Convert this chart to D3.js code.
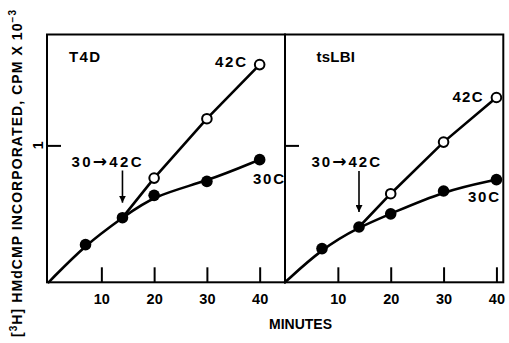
<!DOCTYPE html>
<html>
<head>
<meta charset="utf-8">
<script src="https://cdn.jsdelivr.net/npm/d3@7"></script>
<style>
  html, body { margin: 0; padding: 0; background: #fff; }
  svg { display: block; }
  text { font-family: "Liberation Sans", Arial, Helvetica, sans-serif; font-weight: bold; fill: #000; }
</style>
</head>
<body>
<svg id="chart" width="509" height="343"></svg>
<script>
// Incorporation of [3H]HMdCMP (CPM x 10^-3) versus time, two strains
const minutes = [7, 14, 20, 30, 40];
const t4d30 = [0.275, 0.472, 0.635, 0.737, 0.896];
const ts30 = [0.246, 0.404, 0.50, 0.667, 0.75];

const shiftMinutes = [20, 30, 40];
const t4d42 = [0.761, 1.195, 1.59];
const ts42 = [0.647, 1.024, 1.35];

const shiftAt = 14;
const xTicks = [10, 20, 30, 40];
const yTicks = [1];

const svg = d3.select("#chart");
const y = d3.scaleLinear().domain([0, 1.81]).range([282.3, 34.5]);

const panels = [
  { name: "T4D", x: d3.scaleLinear().domain([-0.3, 44.8]).range([47, 285]),
    low: t4d30, high: t4d42,
    nameLabel: [69, 61.5, 31], hiLabel: [215, 66.5, 31], loLabel: [253, 184, 31],
    shiftLabel: [71.5, 166.5, 70] },
  { name: "tsLBI", x: d3.scaleLinear().domain([0, 41.3]).range([285, 503.3]),
    low: ts30, high: ts42,
    nameLabel: [316.5, 61.5, 38.5], hiLabel: [452.5, 101.5, 30], loLabel: [468, 202, 31],
    shiftLabel: [311.5, 167, 68.5] }
];

// arrowhead for the temperature-shift marker
svg.append("defs").append("marker")
  .attr("id", "arrowHead")
  .attr("viewBox", "0 0 10 10")
  .attr("refX", 10).attr("refY", 5)
  .attr("markerWidth", 7).attr("markerHeight", 7)
  .attr("markerUnits", "userSpaceOnUse")
  .attr("orient", "auto")
  .append("path").attr("d", "M0,0 L10,5 L0,10 Z").attr("fill", "#000");

panels.forEach((p, i) => {
  const x = p.x;
  const g = svg.append("g");
  const [x0, x1] = x.range();
  const [yb, yt] = y.range();

  // bottom axis with inward ticks
  const xa = g.append("g").attr("transform", `translate(0,${yb})`)
    .call(d3.axisBottom(x).tickValues(xTicks).tickFormat(d3.format("d"))
      .tickSizeInner(-15).tickSizeOuter(0).tickPadding(11));
  xa.select(".domain").remove();
  xa.selectAll("line").attr("stroke", "#000").attr("stroke-width", 2);
  xa.selectAll("text").style("font-size", "14.5px")
    .style("font-family", "'Liberation Sans', Arial, sans-serif").style("font-weight", "bold");

  // left axis with inward tick
  const ya = g.append("g").attr("transform", `translate(${x0},0)`)
    .call(d3.axisLeft(y).tickValues(yTicks).tickFormat("").tickSizeInner(-14).tickSizeOuter(0));
  ya.select(".domain").remove();
  ya.selectAll("line").attr("stroke", "#000").attr("stroke-width", 2);

  // panel frame
  g.append("rect").attr("x", x0).attr("y", yt).attr("width", x1 - x0).attr("height", yb - yt)
    .attr("fill", "none").attr("stroke", "#000").attr("stroke-width", 2);

  const lowPts = [[0, 0]].concat(minutes.map((m, k) => [m, p.low[k]]));
  const k14 = minutes.indexOf(shiftAt);
  const highPts = [[shiftAt, p.low[k14]]].concat(shiftMinutes.map((m, k) => [m, p.high[k]]));

  const line = d3.line().x(d => x(d[0])).y(d => y(d[1]));

  g.append("path").datum(lowPts).attr("fill", "none").attr("stroke", "#000")
    .attr("stroke-width", 2.6).attr("stroke-linecap", "round")
    .attr("d", line.curve(d3.curveBasis));
  g.append("path").datum(highPts).attr("fill", "none").attr("stroke", "#000")
    .attr("stroke-width", 2.6).attr("stroke-linecap", "round")
    .attr("d", line.curve(d3.curveLinear));

  // 30C points (filled)
  g.selectAll(".lo").data(minutes.map((m, k) => [m, p.low[k]])).join("circle")
    .attr("cx", d => x(d[0])).attr("cy", d => y(d[1])).attr("r", 5.8).attr("fill", "#000");
  // 42C points (open)
  g.selectAll(".hi").data(shiftMinutes.map((m, k) => [m, p.high[k]])).join("circle")
    .attr("cx", d => x(d[0])).attr("cy", d => y(d[1])).attr("r", 4.8)
    .attr("fill", "#fff").attr("stroke", "#000").attr("stroke-width", 2);

  // shift arrow
  const ax = x(shiftAt);
  g.append("line").attr("x1", ax).attr("x2", ax)
    .attr("y1", p.shiftLabel[1] + 4).attr("y2", y(p.low[k14]) - 15)
    .attr("stroke", "#000").attr("stroke-width", 1.6).attr("marker-end", "url(#arrowHead)");

  const label = (txt, spec) => g.append("text").attr("x", spec[0]).attr("y", spec[1])
    .attr("textLength", spec[2]).attr("lengthAdjust", "spacing")
    .style("font-size", "15px").text(txt);
  label(p.name, p.nameLabel);
  label("42C", p.hiLabel);
  label("30C", p.loLabel);

  // "30→42C" with a full-size arrow glyph
  const sl = g.append("text").attr("x", p.shiftLabel[0]).attr("y", p.shiftLabel[1])
    .attr("textLength", p.shiftLabel[2]).attr("lengthAdjust", "spacing")
    .style("font-size", "15px");
  sl.append("tspan").text("30");
  sl.append("tspan").style("font-family", "'DejaVu Sans', sans-serif")
    .style("font-size", "17px").text("\u2192");
  sl.append("tspan").text("42C");
});

// x-axis title
svg.append("text").attr("x", 300.5).attr("y", 329).attr("text-anchor", "middle")
  .style("font-size", "14px").text("MINUTES");

// y tick label
svg.append("text").attr("transform", `translate(43,${y(1)}) rotate(-90)`)
  .attr("text-anchor", "middle").style("font-size", "14px").text("1");

// y-axis title, rotated
const yt = svg.append("text").attr("transform", "translate(22,337) rotate(-90)")
  .attr("textLength", 327).attr("lengthAdjust", "spacing")
  .style("font-size", "14px");
yt.append("tspan").text("[");
yt.append("tspan").attr("dy", -5).style("font-size", "10px").text("3");
yt.append("tspan").attr("dy", 5).text("H]");
yt.append("tspan").text(" HMdCMP INCORPORATED, CPM X 10");
yt.append("tspan").attr("dy", -6).style("font-size", "10px").text("\u22123");
</script>
</body>
</html>
